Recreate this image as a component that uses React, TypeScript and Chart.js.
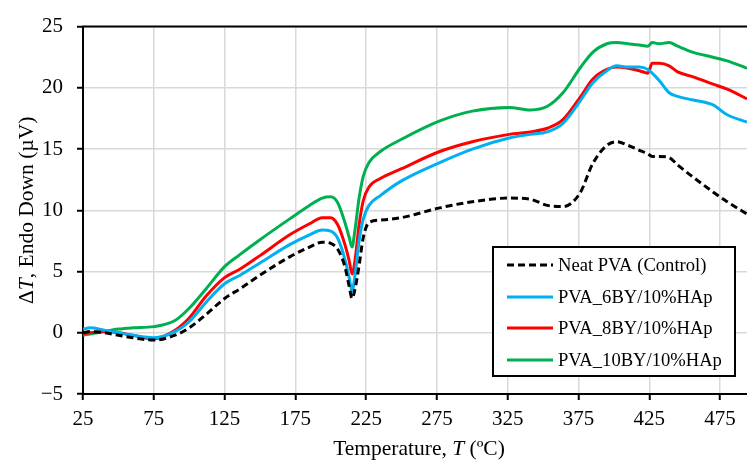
import { useEffect, useRef } from "react";
import { Chart, registerables } from "chart.js";

Chart.register(...registerables);

const temperatures = [25, 30, 40, 50, 60, 75, 90, 100, 112, 125, 136, 150, 171, 185, 194, 200, 205, 210, 213, 215, 217, 220, 223, 227, 235, 250, 277, 300, 326, 341, 353, 364, 376, 385, 395, 402, 410, 418, 424, 427, 432, 439, 445, 456, 470, 480, 494];

const neatPVA = [0.0, 0.1, 0.0, -0.2, -0.4, -0.6, -0.2, 0.4, 1.5, 2.8, 3.6, 4.7, 6.2, 7.0, 7.4, 7.3, 6.8, 5.4, 3.8, 2.8, 3.5, 5.5, 7.8, 9.0, 9.2, 9.4, 10.2, 10.7, 11.0, 10.9, 10.4, 10.3, 11.4, 13.8, 15.3, 15.6, 15.3, 14.9, 14.6, 14.4, 14.4, 14.3, 13.7, 12.7, 11.5, 10.7, 9.7];

const pva6BY = [0.3, 0.4, 0.2, 0.0, -0.2, -0.4, 0.1, 0.9, 2.5, 4.0, 4.7, 5.7, 7.2, 8.0, 8.4, 8.3, 7.7, 6.0, 4.5, 3.4, 4.6, 7.5, 9.3, 10.4, 11.2, 12.4, 13.9, 15.0, 15.9, 16.2, 16.4, 17.1, 18.9, 20.4, 21.4, 21.8, 21.7, 21.7, 21.5, 21.2, 20.6, 19.6, 19.3, 19.0, 18.6, 17.8, 17.2];

const pva8BY = [-0.1, 0.0, 0.1, 0.0, -0.2, -0.5, 0.2, 1.2, 3.0, 4.5, 5.2, 6.3, 8.0, 8.9, 9.4, 9.4, 8.8, 7.2, 5.9, 4.8, 5.8, 8.8, 10.8, 11.9, 12.6, 13.4, 14.8, 15.6, 16.2, 16.4, 16.7, 17.4, 19.2, 20.7, 21.5, 21.7, 21.6, 21.4, 21.2, 22.0, 22.0, 21.8, 21.3, 20.9, 20.3, 19.9, 19.1];

const pva10BY = [-0.2, -0.1, 0.1, 0.3, 0.4, 0.5, 1.0, 2.0, 3.6, 5.4, 6.4, 7.6, 9.3, 10.4, 11.0, 11.1, 10.6, 9.0, 7.8, 7.0, 8.3, 11.0, 12.8, 13.9, 14.8, 15.8, 17.3, 18.1, 18.4, 18.2, 18.5, 19.6, 21.6, 22.9, 23.6, 23.7, 23.6, 23.5, 23.4, 23.7, 23.6, 23.7, 23.4, 22.9, 22.5, 22.2, 21.6];

const seriesLabels = ["Neat PVA (Control)", "PVA_6BY/10%HAp", "PVA_8BY/10%HAp", "PVA_10BY/10%HAp"];
const seriesColors = ["#000000", "#00b0f0", "#ff0000", "#00b050"];
const xTicks = [25, 75, 125, 175, 225, 275, 325, 375, 425, 475];
const yTicks = [-5, 0, 5, 10, 15, 20, 25];

const FONT = "'Liberation Serif', 'Times New Roman', serif";
const DASH = [7, 4];

type Part = { text: string; italic?: boolean };

function drawRich(ctx: CanvasRenderingContext2D, parts: Part[], cx: number, cy: number, size: number) {
  let total = 0;
  const widths = parts.map((p) => {
    ctx.font = `${p.italic ? "italic " : ""}${size}px ${FONT}`;
    const w = ctx.measureText(p.text).width;
    total += w;
    return w;
  });
  let x = cx - total / 2;
  ctx.textBaseline = "middle";
  ctx.textAlign = "left";
  parts.forEach((p, i) => {
    ctx.font = `${p.italic ? "italic " : ""}${size}px ${FONT}`;
    ctx.fillText(p.text, x, cy);
    x += widths[i];
  });
}

const framePlugin = {
  id: "frame",
  afterDatasetsDraw(chart: any) {
    const ctx: CanvasRenderingContext2D = chart.ctx;
    const a = chart.chartArea;
    ctx.save();
    // top border
    ctx.strokeStyle = "#000";
    ctx.lineWidth = 2;
    ctx.beginPath();
    ctx.moveTo(a.left - 1, a.top);
    ctx.lineTo(a.right, a.top);
    ctx.stroke();

    // legend
    const bx = 493, by = 247, bw = 242, bh = 129;
    ctx.fillStyle = "#fff";
    ctx.fillRect(bx, by, bw, bh);
    ctx.lineWidth = 2;
    ctx.strokeStyle = "#000";
    ctx.strokeRect(bx, by, bw, bh);
    const rowsY = [265, 297, 328, 360];
    chart.data.datasets.forEach((ds: any, i: number) => {
      const y = rowsY[i];
      ctx.beginPath();
      ctx.setLineDash(ds.borderDash || []);
      ctx.strokeStyle = ds.borderColor;
      ctx.lineWidth = 3;
      ctx.moveTo(507, y);
      ctx.lineTo(553, y);
      ctx.stroke();
      ctx.setLineDash([]);
      ctx.fillStyle = "#000";
      ctx.font = `18.6px ${FONT}`;
      ctx.textAlign = "left";
      ctx.textBaseline = "middle";
      ctx.fillText(ds.label, 558, y + 1);
    });

    // axis titles
    ctx.fillStyle = "#000";
    drawRich(ctx, [{ text: "Temperature, " }, { text: "T", italic: true }, { text: " (ºC)" }], 419, 449, 21.5);
    ctx.translate(27, (a.top + a.bottom) / 2);
    ctx.rotate(-Math.PI / 2);
    drawRich(ctx, [{ text: "Δ" }, { text: "T", italic: true }, { text: ", Endo Down (µV)" }], 0, 0, 21.5);
    ctx.restore();
  },
};

export default function App() {
  const ref = useRef<HTMLCanvasElement>(null);
  useEffect(() => {
    if (!ref.current) return;
    const series = [neatPVA, pva6BY, pva8BY, pva10BY];
    const chart = new Chart(ref.current, {
      type: "line",
      data: {
        datasets: series.map((vals, i) => ({
          label: seriesLabels[i],
          data: temperatures.map((t, k) => ({ x: t, y: vals[k] })),
          borderColor: seriesColors[i],
          borderWidth: 3,
          borderDash: i === 0 ? DASH : [],
          pointRadius: 0,
          fill: false,
          cubicInterpolationMode: "monotone" as const,
        })),
      },
      options: {
        animation: false,
        responsive: false,
        layout: { padding: { top: 25, right: 0, bottom: 0, left: 0 } },
        plugins: { legend: { display: false }, tooltip: { enabled: false } },
        scales: {
          x: {
            type: "linear",
            min: 25,
            max: 494,
            afterBuildTicks: (s: any) => {
              s.ticks = xTicks.map((v) => ({ value: v }));
            },
            afterFit: (s: any) => {
              s.height = 68;
            },
            grid: { color: "#d9d9d9", lineWidth: 1.5, tickColor: "#000", tickLength: 6, tickWidth: 2 },
            border: { color: "#000", width: 2 },
            ticks: { color: "#000", font: { family: FONT, size: 21 }, padding: 7, maxRotation: 0, autoSkip: false },
          },
          y: {
            type: "linear",
            min: -5,
            max: 25,
            afterBuildTicks: (s: any) => {
              s.ticks = yTicks.map((v) => ({ value: v }));
            },
            afterFit: (s: any) => {
              s.width = 83;
            },
            grid: { color: "#d9d9d9", lineWidth: 1.5, tickColor: "#000", tickLength: 6, tickWidth: 2 },
            border: { color: "#000", width: 2 },
            ticks: {
              color: "#000",
              font: { family: FONT, size: 21 },
              padding: 14,
              callback: (v: any) => (Number(v) < 0 ? "−" + Math.abs(Number(v)) : String(v)),
            },
          },
        },
      },
      plugins: [framePlugin],
    });
    return () => chart.destroy();
  }, []);
  return (
    <div style={{ position: "fixed", left: 0, top: 0, width: 747, height: 462, background: "#fff" }}>
      <canvas ref={ref} width={747} height={462} style={{ display: "block" }} />
    </div>
  );
}
